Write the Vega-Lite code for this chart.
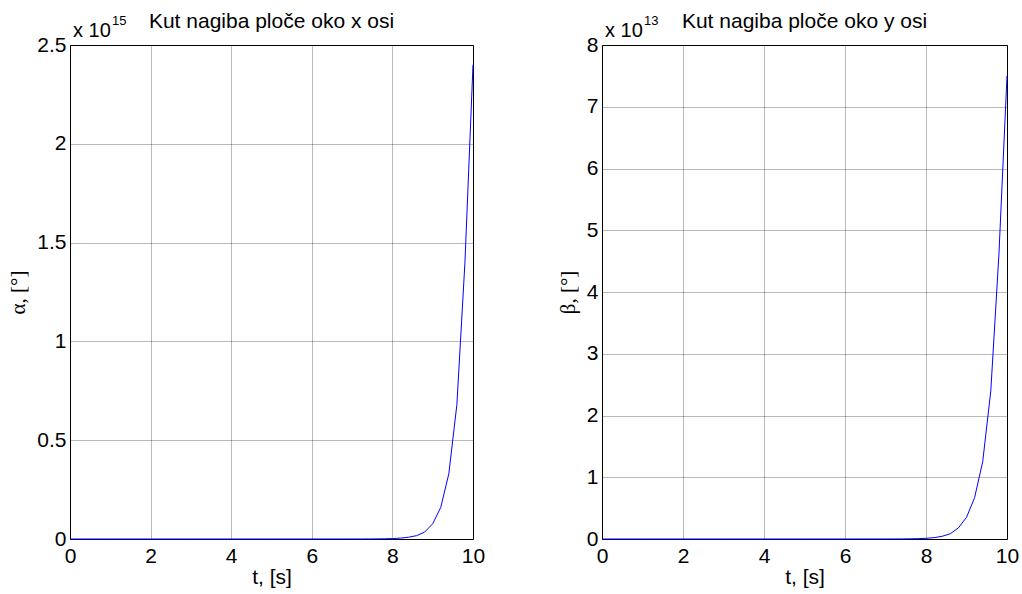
{
  "$schema": "https://vega.github.io/schema/vega-lite/v6.json",
  "background": "white",
  "padding": {"left": 7, "top": 10, "right": 5, "bottom": 0},
  "spacing": 129,
  "bounds": "flush",
  "datasets": {
    "alpha": [
      {"t": 0, "v": 0}, {"t": 1, "v": 0}, {"t": 2, "v": 0}, {"t": 3, "v": 0}, {"t": 4, "v": 0},
      {"t": 5, "v": 0}, {"t": 6, "v": 0}, {"t": 7, "v": 7e10}, {"t": 7.2, "v": 1.4e11},
      {"t": 7.4, "v": 2.7e11}, {"t": 7.6, "v": 5.5e11}, {"t": 7.8, "v": 1.1e12},
      {"t": 8.0, "v": 2.2e12}, {"t": 8.2, "v": 4.5e12}, {"t": 8.4, "v": 9e12},
      {"t": 8.6, "v": 1.7e13}, {"t": 8.8, "v": 3.5e13}, {"t": 9.0, "v": 7.7e13},
      {"t": 9.2, "v": 1.6e14}, {"t": 9.4, "v": 3.3e14}, {"t": 9.6, "v": 6.8e14},
      {"t": 9.8, "v": 1.4e15}, {"t": 10.0, "v": 2.4e15}
    ],
    "beta": [
      {"t": 0, "v": 0}, {"t": 1, "v": 0}, {"t": 2, "v": 0}, {"t": 3, "v": 0}, {"t": 4, "v": 0},
      {"t": 5, "v": 0}, {"t": 6, "v": 0}, {"t": 7, "v": 3.5e9}, {"t": 7.2, "v": 7e9},
      {"t": 7.4, "v": 1.4e10}, {"t": 7.6, "v": 2.8e10}, {"t": 7.8, "v": 5.5e10},
      {"t": 8.0, "v": 1.1e11}, {"t": 8.2, "v": 2.2e11}, {"t": 8.4, "v": 4.4e11},
      {"t": 8.6, "v": 8.5e11}, {"t": 8.8, "v": 1.8e12}, {"t": 9.0, "v": 3.5e12},
      {"t": 9.2, "v": 6.7e12}, {"t": 9.4, "v": 1.25e13}, {"t": 9.6, "v": 2.4e13},
      {"t": 9.8, "v": 4.6e13}, {"t": 10.0, "v": 7.5e13}
    ]
  },
  "config": {
    "view": {"stroke": "black", "strokeWidth": 1},
    "font": "Liberation Sans",
    "axis": {
      "labelFont": "Liberation Sans", "labelFontSize": 21, "labelColor": "black", "labelFlush": false,
      "titleFont": "Liberation Sans", "titleFontSize": 21, "titleColor": "black", "titleFontWeight": "normal",
      "ticks": false, "domain": false,
      "grid": true, "gridColor": "#000000", "gridOpacity": 0.55, "gridDash": [1, 1], "gridWidth": 1
    },
    "title": {"font": "Liberation Sans", "fontSize": 21, "fontWeight": "normal", "color": "black", "offset": -17, "anchor": "middle"}
  },
  "hconcat": [
    {
      "width": 403, "height": 494,
      "title": "Kut nagiba ploče oko x osi",
      "layer": [
        {
          "data": {"name": "alpha"},
          "mark": {"type": "line", "color": "#0000ff", "strokeWidth": 1},
          "encoding": {
            "x": {"field": "t", "type": "quantitative", "scale": {"domain": [0, 10], "nice": false},
                  "axis": {"values": [0, 2, 4, 6, 8, 10], "title": "t, [s]", "labelPadding": 6, "titlePadding": 0}},
            "y": {"field": "v", "type": "quantitative", "scale": {"domain": [0, 2.5e15], "nice": false},
                  "axis": {"values": [0, 5e14, 1e15, 1.5e15, 2e15, 2.5e15], "labelExpr": "datum.value / 1e15",
                           "title": "α, [°]", "titleFont": "Liberation Serif", "labelPadding": 4, "titlePadding": 8}}
          }
        },
        {
          "data": {"values": [{}]},
          "mark": {"type": "text", "text": "x 10", "align": "left", "baseline": "alphabetic", "fontSize": 20, "dx": 3, "dy": -8, "font": "Liberation Sans"},
          "encoding": {"x": {"datum": 0, "type": "quantitative"}, "y": {"datum": 2.5e15, "type": "quantitative"}}
        },
        {
          "data": {"values": [{}]},
          "mark": {"type": "text", "text": "15", "align": "left", "baseline": "alphabetic", "fontSize": 13, "dx": 42, "dy": -20, "font": "Liberation Sans"},
          "encoding": {"x": {"datum": 0, "type": "quantitative"}, "y": {"datum": 2.5e15, "type": "quantitative"}}
        }
      ]
    },
    {
      "width": 405, "height": 494,
      "title": "Kut nagiba ploče oko y osi",
      "layer": [
        {
          "data": {"name": "beta"},
          "mark": {"type": "line", "color": "#0000ff", "strokeWidth": 1},
          "encoding": {
            "x": {"field": "t", "type": "quantitative", "scale": {"domain": [0, 10], "nice": false},
                  "axis": {"values": [0, 2, 4, 6, 8, 10], "title": "t, [s]", "labelPadding": 6, "titlePadding": 0}},
            "y": {"field": "v", "type": "quantitative", "scale": {"domain": [0, 8e13], "nice": false},
                  "axis": {"values": [0, 1e13, 2e13, 3e13, 4e13, 5e13, 6e13, 7e13, 8e13], "labelExpr": "datum.value / 1e13",
                           "title": "β, [°]", "titleFont": "Liberation Serif", "labelPadding": 4, "titlePadding": 8}}
          }
        },
        {
          "data": {"values": [{}]},
          "mark": {"type": "text", "text": "x 10", "align": "left", "baseline": "alphabetic", "fontSize": 20, "dx": 3, "dy": -8, "font": "Liberation Sans"},
          "encoding": {"x": {"datum": 0, "type": "quantitative"}, "y": {"datum": 8e13, "type": "quantitative"}}
        },
        {
          "data": {"values": [{}]},
          "mark": {"type": "text", "text": "13", "align": "left", "baseline": "alphabetic", "fontSize": 13, "dx": 42, "dy": -20, "font": "Liberation Sans"},
          "encoding": {"x": {"datum": 0, "type": "quantitative"}, "y": {"datum": 8e13, "type": "quantitative"}}
        }
      ]
    }
  ]
}
